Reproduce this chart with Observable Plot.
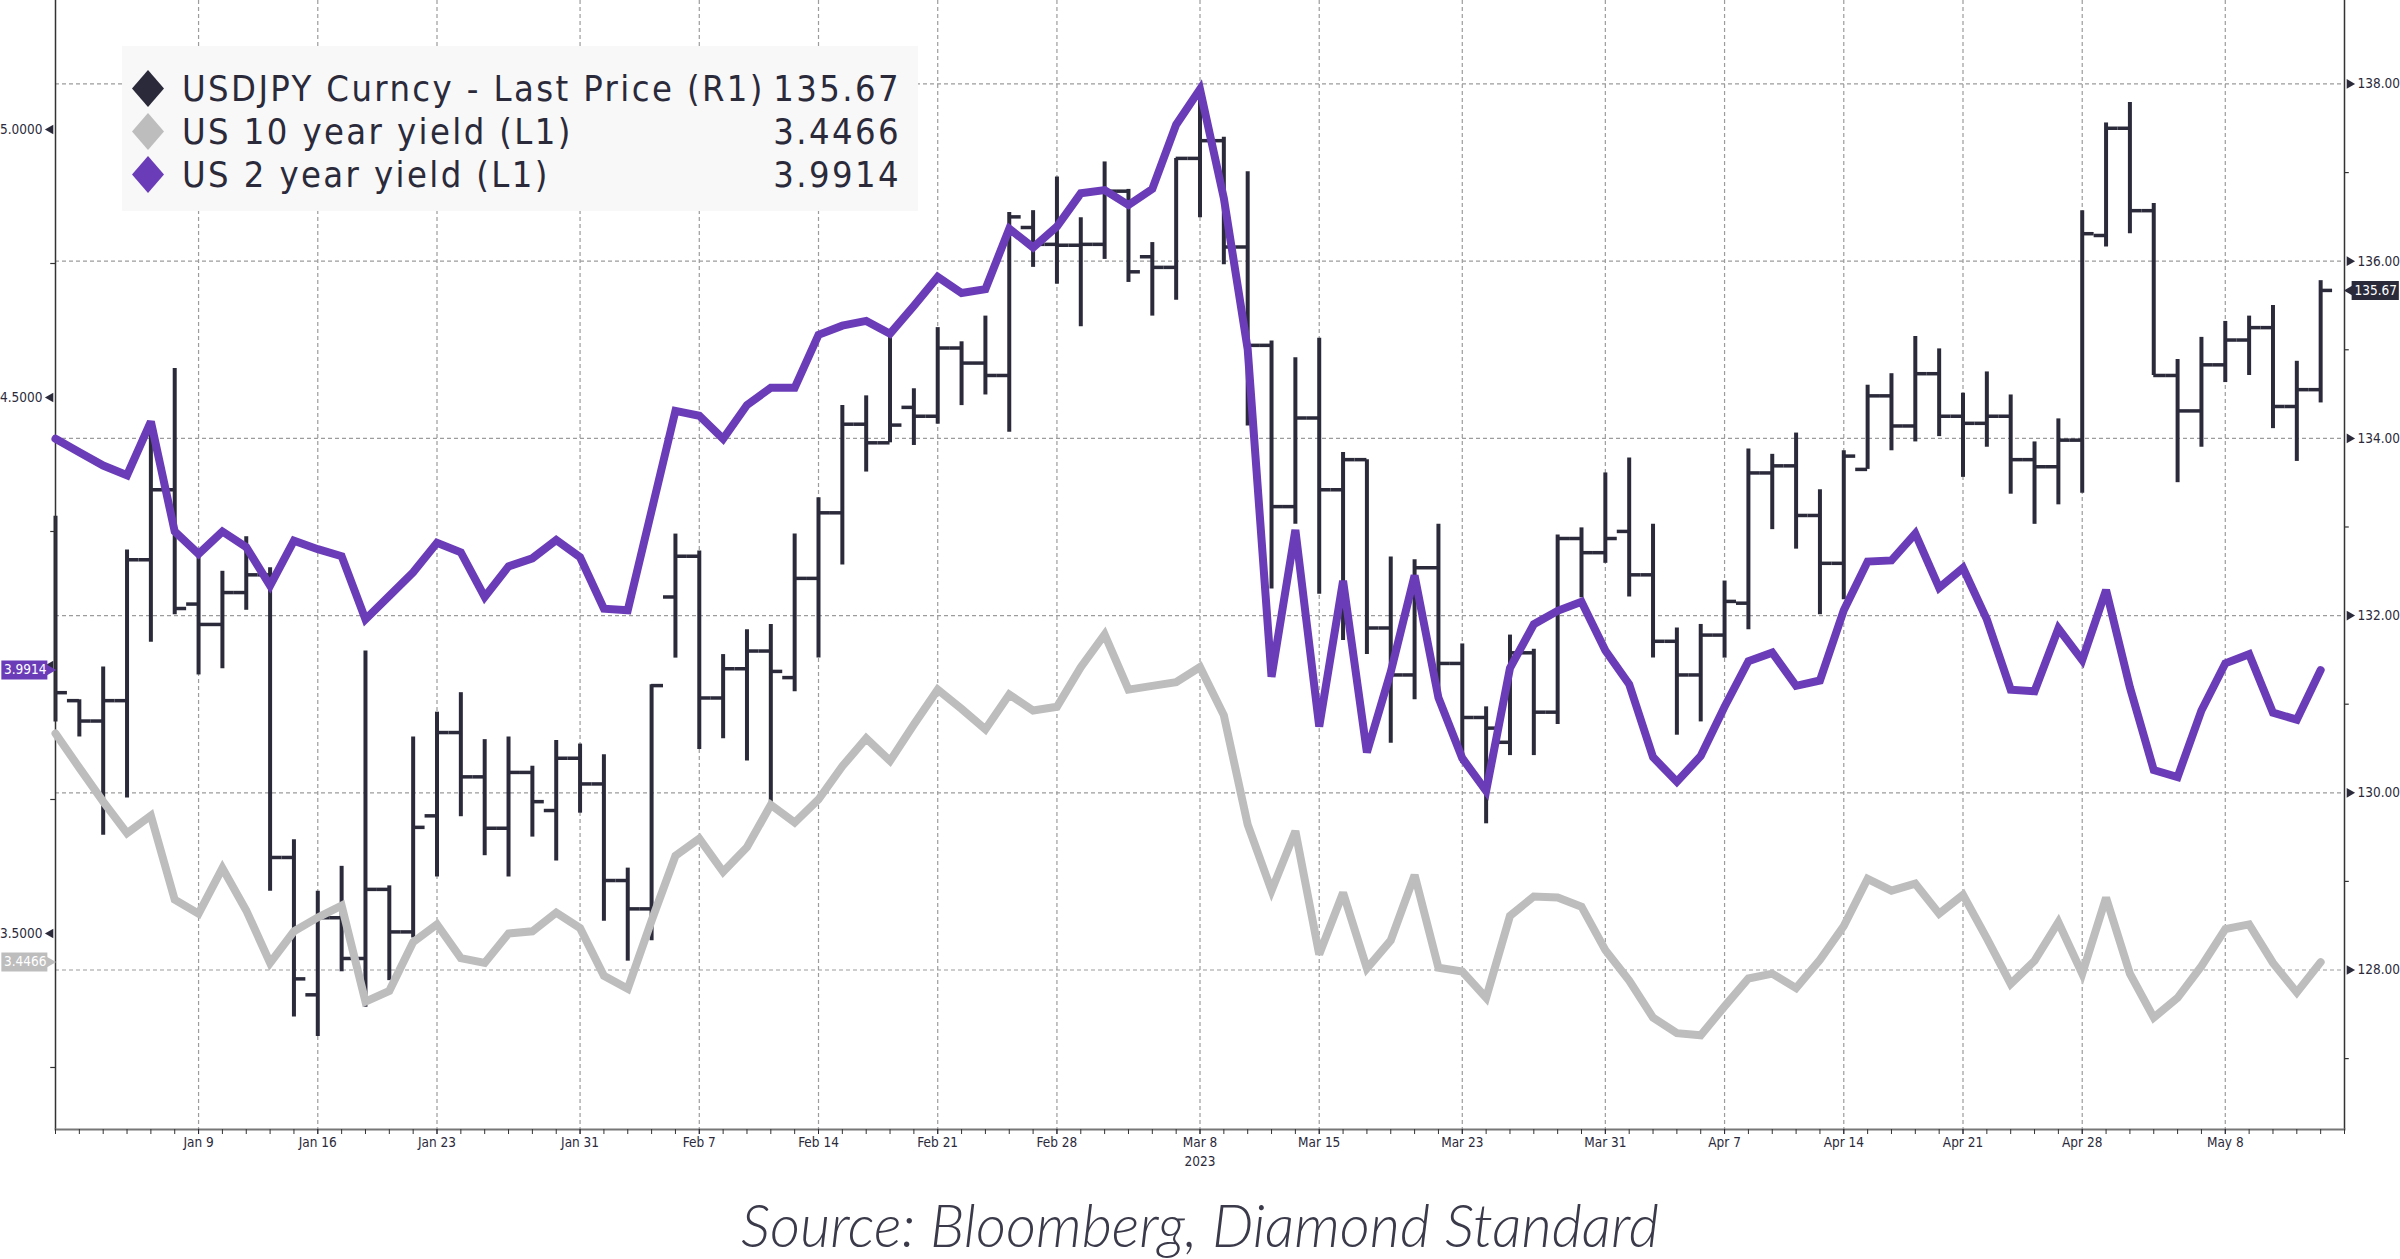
<!DOCTYPE html>
<html>
<head>
<meta charset="utf-8">
<script src="https://cdn.jsdelivr.net/npm/d3@7"></script>
<script src="https://cdn.jsdelivr.net/npm/@observablehq/plot@0.6"></script>
<style>
  html, body { margin: 0; padding: 0; background: #ffffff; }
  #wrap { position: relative; width: 2400px; height: 1259px; overflow: hidden; background: #fff;
          font-family: "DejaVu Sans Condensed", "DejaVu Sans", sans-serif; }
  #wrap > div > svg { position: absolute; left: 0; top: 0; }
  #legend { position: absolute; left: 122px; top: 46px; width: 796px; height: 165px; background: #f8f8f9; }
  .row { position: absolute; left: 0; width: 796px; height: 43px; line-height: 43px; font-size: 36px;
         letter-spacing: 2.4px; color: #2b2a3a; font-family: "DejaVu Sans Condensed", "DejaVu Sans", sans-serif; }
  .row svg { position: absolute; left: 10px; top: 3px; }
  .row .name { position: absolute; left: 60px; }
  .row .val { position: absolute; right: 17px; }
  #caption { position: absolute; left: 0; width: 2400px; top: 1195px; text-align: center;
             font-family: Lato, "Open Sans", sans-serif; font-style: italic; font-weight: 300;
             font-size: 58.5px; line-height: 1; color: #3a3a4a; }
</style>
</head>
<body>
<div id="wrap">
  <div id="chartBottom"></div>
  <div id="chartTop"></div>
  <div id="legend"></div>
  <div id="caption"></div>
</div>
<script>
// ---------------- DATA ----------------
const dates = [
  "2022-12-30",
  "2023-01-02","2023-01-03","2023-01-04","2023-01-05","2023-01-06",
  "2023-01-09","2023-01-10","2023-01-11","2023-01-12","2023-01-13",
  "2023-01-16","2023-01-17","2023-01-18","2023-01-19","2023-01-20",
  "2023-01-23","2023-01-24","2023-01-25","2023-01-26","2023-01-27",
  "2023-01-30","2023-01-31","2023-02-01","2023-02-02","2023-02-03",
  "2023-02-06","2023-02-07","2023-02-08","2023-02-09","2023-02-10",
  "2023-02-13","2023-02-14","2023-02-15","2023-02-16","2023-02-17",
  "2023-02-20","2023-02-21","2023-02-22","2023-02-23","2023-02-24",
  "2023-02-27","2023-02-28","2023-03-01","2023-03-02","2023-03-03",
  "2023-03-06","2023-03-07","2023-03-08","2023-03-09","2023-03-10",
  "2023-03-13","2023-03-14","2023-03-15","2023-03-16","2023-03-17",
  "2023-03-20","2023-03-21","2023-03-22","2023-03-23","2023-03-24",
  "2023-03-27","2023-03-28","2023-03-29","2023-03-30","2023-03-31",
  "2023-04-03","2023-04-04","2023-04-05","2023-04-06","2023-04-07",
  "2023-04-10","2023-04-11","2023-04-12","2023-04-13","2023-04-14",
  "2023-04-17","2023-04-18","2023-04-19","2023-04-20","2023-04-21",
  "2023-04-24","2023-04-25","2023-04-26","2023-04-27","2023-04-28",
  "2023-05-01","2023-05-02","2023-05-03","2023-05-04","2023-05-05",
  "2023-05-08","2023-05-09","2023-05-10","2023-05-11","2023-05-12"
];

const usdjpyOpen = [
  132.90,
  131.04,130.81,131.04,132.63,133.42,
  132.13,131.90,132.26,132.46,129.27,
  127.72,128.59,128.13,128.91,128.43,
  129.74,130.68,130.18,129.60,130.23,
  129.80,130.39,130.10,129.01,128.69,
  132.21,132.67,131.07,131.40,131.60,
  131.30,132.42,133.16,134.16,133.95,
  134.35,134.25,135.02,134.85,134.71,
  136.38,136.19,136.18,136.19,136.79,
  136.05,135.93,137.16,137.36,136.16,
  135.05,133.23,134.23,133.42,133.76,
  131.86,131.33,132.54,131.46,130.85,
  130.57,131.58,130.91,132.87,132.71,
  132.95,132.46,131.71,131.33,131.78,
  132.14,133.61,133.69,133.13,132.59,
  133.65,134.48,134.14,134.73,134.25,
  134.17,134.25,133.76,133.68,133.98,
  136.29,137.50,136.57,134.71,134.31,
  134.83,135.11,135.25,134.36,134.55
];
const usdjpyHigh = [
  133.12,
  131.05,131.42,132.74,134.06,134.79,
  132.67,132.50,132.89,132.54,129.47,
  128.89,129.17,131.60,128.95,130.63,
  130.91,131.13,130.60,130.63,130.30,
  130.59,130.55,130.43,129.15,131.22,
  132.92,132.73,131.56,131.84,131.90,
  132.92,133.33,134.37,134.48,135.14,
  134.56,135.25,135.09,135.38,136.55,
  136.57,136.95,136.49,137.12,136.81,
  136.21,137.16,137.91,137.40,137.01,
  135.10,134.91,135.13,133.84,133.76,
  132.66,132.63,133.03,131.68,130.97,
  131.78,131.62,132.91,132.99,133.61,
  133.78,133.03,131.86,131.90,132.39,
  133.88,133.82,134.06,133.42,133.86,
  134.60,134.73,135.15,135.01,134.51,
  134.75,134.49,133.96,134.22,136.57,
  137.56,137.79,136.65,134.89,135.14,
  135.32,135.38,135.50,134.87,135.78
];
const usdjpyLow = [
  130.80,
  130.63,129.52,129.94,131.70,132.01,
  131.33,131.40,132.06,128.89,127.47,
  127.25,127.98,127.58,127.88,128.36,
  129.05,129.73,129.29,129.05,129.50,
  129.23,129.77,128.55,128.10,128.33,
  131.52,130.49,130.61,130.36,129.88,
  131.14,131.52,132.57,133.62,133.95,
  133.92,134.16,134.37,134.49,134.07,
  135.93,135.74,135.26,136.02,135.76,
  135.38,135.56,136.49,135.96,134.14,
  132.30,133.03,132.24,131.72,131.56,
  130.56,131.05,131.13,130.33,129.65,
  130.42,130.42,130.77,132.20,132.59,
  132.21,131.52,130.65,130.80,131.52,
  131.84,132.97,132.75,132.01,132.18,
  133.65,133.86,133.96,134.02,133.56,
  133.90,133.37,133.03,133.25,133.38,
  136.16,136.31,134.71,133.50,133.90,
  134.63,134.71,134.11,133.74,134.40
];
const usdjpyClose = [
  131.13,
  130.81,131.04,132.63,133.42,132.08,
  131.90,132.26,132.46,129.27,127.90,
  128.59,128.13,128.91,128.43,129.61,
  130.68,130.18,129.60,130.23,129.90,
  130.39,130.10,129.01,128.69,131.21,
  132.67,131.07,131.40,131.60,131.37,
  132.42,133.16,134.16,133.95,134.15,
  134.25,135.02,134.85,134.71,136.50,
  136.19,136.18,136.19,136.79,135.88,
  135.93,137.16,137.36,136.16,135.05,
  133.23,134.23,133.42,133.76,131.86,
  131.33,132.54,131.46,130.85,130.73,
  131.58,130.91,132.87,132.71,132.87,
  132.46,131.71,131.33,131.78,132.16,
  133.61,133.69,133.13,132.59,133.80,
  134.48,134.14,134.73,134.25,134.17,
  134.25,133.76,133.68,133.98,136.31,
  137.50,136.57,134.71,134.31,134.83,
  135.11,135.25,134.36,134.55,135.67
];
const us10y = [
  3.873,
  3.809,3.746,3.687,3.720,3.563,
  3.537,3.622,3.543,3.445,3.504,
  3.530,3.552,3.373,3.393,3.484,
  3.517,3.454,3.445,3.500,3.504,
  3.539,3.510,3.421,3.397,3.524,
  3.645,3.677,3.615,3.661,3.740,
  3.707,3.750,3.812,3.864,3.822,
  3.890,3.955,3.919,3.881,3.946,
  3.916,3.923,3.997,4.058,3.955,
  3.962,3.969,3.997,3.907,3.703,
  3.580,3.691,3.461,3.576,3.435,
  3.487,3.609,3.436,3.429,3.380,
  3.533,3.569,3.567,3.550,3.469,
  3.412,3.343,3.314,3.310,3.364,
  3.416,3.425,3.398,3.451,3.514,
  3.602,3.580,3.593,3.537,3.572,
  3.491,3.406,3.449,3.521,3.425,
  3.567,3.425,3.343,3.380,3.439,
  3.508,3.517,3.445,3.390,3.4466
];
const us2y = [
  4.423,
  4.398,4.373,4.355,4.455,4.250,
  4.208,4.250,4.221,4.149,4.233,
  4.217,4.204,4.086,4.130,4.174,
  4.229,4.211,4.128,4.185,4.200,
  4.234,4.202,4.106,4.103,4.289,
  4.475,4.466,4.423,4.486,4.518,
  4.518,4.617,4.634,4.643,4.619,
  4.671,4.725,4.695,4.702,4.815,
  4.780,4.819,4.881,4.887,4.859,
  4.889,5.009,5.075,4.872,4.590,
  3.979,4.253,3.886,4.158,3.838,
  3.988,4.168,3.940,3.827,3.766,
  3.995,4.077,4.102,4.119,4.028,
  3.965,3.829,3.783,3.831,3.923,
  4.008,4.024,3.962,3.972,4.103,
  4.194,4.196,4.246,4.145,4.182,
  4.086,3.955,3.952,4.069,4.010,
  4.141,3.959,3.805,3.792,3.916,
  4.004,4.021,3.912,3.899,3.9914
];

const labelDates = ["2023-01-09","2023-01-16","2023-01-23","2023-01-31","2023-02-07","2023-02-14",
  "2023-02-21","2023-02-28","2023-03-08","2023-03-15","2023-03-23","2023-03-31","2023-04-07",
  "2023-04-14","2023-04-21","2023-04-28","2023-05-08"];
const yearLabelDate = "2023-03-08";
const yearLabel = "2023";

const rightTicks = [128, 130, 132, 134, 136, 138];
const rightMinor = [127, 129, 131, 133, 135, 137];
const leftTicks = [3.5, 4.0, 4.5, 5.0];
const leftLabeled = [3.5, 4.5, 5.0];
const leftMinor = [3.25, 3.75, 4.25, 4.75];

const seriesNames = ["USDJPY Curncy - Last Price (R1)", "US 10 year yield (L1)", "US 2 year yield (L1)"];
const captionText = "Source: Bloomberg, Diamond Standard";

// ---------------- STYLE ----------------
const C_DARK = "#2b2a3b";
const C_GRAY = "#bdbdbd";
const C_PURPLE = "#6b3cb8";
const C_GRID = "#9c9c9c";
const W = 2400, H = 1175;
const M = {top: 0, right: 56, bottom: 46, left: 55};
const fontFam = "'DejaVu Sans Condensed', 'DejaVu Sans', sans-serif";
const AX_FS = 13.5;

// ---------------- BUILD ----------------
const rows = dates.map((d, i) => ({
  i, date: d,
  open: usdjpyOpen[i], high: usdjpyHigh[i], low: usdjpyLow[i], close: usdjpyClose[i],
  us10: us10y[i], us2: us2y[i]
}));
const n = dates.length;
const xDomain = [0, n];             // one empty slot to the right of the last bar
const allIdx = d3.range(0, n + 1);
const labelIdx = labelDates.map(d => dates.indexOf(d));
const fmtDate = d3.utcFormat("%b %-d");
const parse = d3.utcParse("%Y-%m-%d");

const lastRow = rows[n - 1];

const common = {
  width: W, height: H,
  marginTop: M.top, marginRight: M.right, marginBottom: M.bottom, marginLeft: M.left,
  x: {domain: xDomain, axis: null},
};
const plotStyle = {background: "transparent", fontFamily: fontFam, fontSize: AX_FS + "px", color: "#2b2a3b", overflow: "visible"};

// Bottom layer: grid, USDJPY bars, right axis, x axis
const bottomPlot = Plot.plot({
  ...common,
  style: plotStyle,
  y: {domain: [126.20, 138.942], label: null, axis: null},
  marks: [
    Plot.ruleY(rightTicks, {y: d => d, stroke: C_GRID, strokeWidth: 1.2, strokeDasharray: "4,3"}),
    Plot.ruleX(labelIdx, {x: d => d, stroke: C_GRID, strokeWidth: 1.2, strokeDasharray: "4,3"}),
    // OHLC bars
    Plot.ruleX(rows, {x: "i", y1: "low", y2: "high", stroke: C_DARK, strokeWidth: 4}),
    Plot.ruleY(rows, {y: "open", x1: d => d.i - 0.5, x2: "i", stroke: C_DARK, strokeWidth: 3.5, clip: true}),
    Plot.ruleY(rows, {y: "close", x1: "i", x2: d => d.i + 0.5, stroke: C_DARK, strokeWidth: 3.5}),
    // frame lines
    Plot.ruleX([xDomain[0], xDomain[1]], {x: d => d, stroke: "#333", strokeWidth: 1.5}),
    Plot.frame({anchor: "bottom", stroke: "#777", strokeWidth: 2}),
    // right axis
    Plot.axisY(rightTicks, {anchor: "right", tickSize: 0, tickPadding: 13, label: null,
      tickFormat: d => d.toFixed(2), fontSize: AX_FS, fill: "#2b2a3b"}),
    Plot.dot(rightTicks, {x: xDomain[1], y: d => d, symbol: "triangle", r: 3.6, rotate: 90, dx: 5, fill: C_DARK, stroke: null}),
    Plot.ruleY(rightMinor, {y: d => d, x1: xDomain[1], x2: xDomain[1] + 0.2, stroke: "#333", strokeWidth: 1.2}),
    // last price tag
    Plot.ruleY([lastRow.close], {y: d => d, x1: xDomain[1] + 0.32, x2: xDomain[1] + 2.3, stroke: C_DARK, strokeWidth: 19}),
    Plot.dot([lastRow.close], {x: xDomain[1] + 0.3, y: d => d, symbol: "triangle", r: 5, rotate: -90, fill: C_DARK, stroke: null}),
    Plot.text([lastRow.close], {x: xDomain[1] + 1.31, y: d => d, text: d => d.toFixed(2), fill: "white", fontSize: AX_FS}),
    // x axis
    Plot.axisX(allIdx, {tickSize: 5, tickFormat: () => "", stroke: "#333", label: null}),
    Plot.axisX(labelIdx, {tickSize: 5, tickPadding: 3, label: null,
      tickFormat: i => fmtDate(parse(dates[i])), fontSize: AX_FS, fill: "#2b2a3b"}),
    Plot.text([dates.indexOf(yearLabelDate)], {x: d => d, frameAnchor: "bottom", dy: 27, lineAnchor: "top",
      text: () => yearLabel, fontSize: AX_FS, fill: "#2b2a3b"})
  ]
});

// Top layer: yields on the left scale
const topPlot = Plot.plot({
  ...common,
  style: plotStyle,
  y: {domain: [3.1343, 5.2407], label: null, axis: null},
  marks: [
    Plot.line(rows, {x: "i", y: "us10", stroke: C_GRAY, strokeWidth: 8, strokeLinejoin: "miter", strokeMiterlimit: 3}),
    Plot.line(rows, {x: "i", y: "us2", stroke: C_PURPLE, strokeWidth: 8, strokeLinejoin: "miter", strokeMiterlimit: 3}),
    Plot.axisY(leftLabeled, {anchor: "left", tickSize: 0, tickPadding: 13, label: null,
      tickFormat: d => d.toFixed(4), fontSize: AX_FS, fill: "#2b2a3b"}),
    Plot.dot(leftTicks, {x: xDomain[0], y: d => d, symbol: "triangle", r: 3.6, rotate: -90, dx: -5, fill: C_DARK, stroke: null}),
    Plot.ruleY(leftMinor, {y: d => d, x1: xDomain[0] - 0.2, x2: xDomain[0], stroke: "#333", strokeWidth: 1.2}),
    // last value tags
    Plot.ruleY([lastRow.us2], {y: d => d, x1: -2.25, x2: -0.32, stroke: C_PURPLE, strokeWidth: 19}),
    Plot.dot([lastRow.us2], {x: -0.3, y: d => d, symbol: "triangle", r: 5, rotate: 90, fill: C_PURPLE, stroke: null}),
    Plot.text([lastRow.us2], {x: -1.27, y: d => d, text: d => d.toFixed(4), fill: "white", fontSize: AX_FS}),
    Plot.ruleY([lastRow.us10], {y: d => d, x1: -2.25, x2: -0.32, stroke: C_GRAY, strokeWidth: 19}),
    Plot.dot([lastRow.us10], {x: -0.3, y: d => d, symbol: "triangle", r: 5, rotate: 90, fill: C_GRAY, stroke: null}),
    Plot.text([lastRow.us10], {x: -1.27, y: d => d, text: d => d.toFixed(4), fill: "white", fontSize: AX_FS})
  ]
});

document.getElementById("chartBottom").appendChild(bottomPlot);
document.getElementById("chartTop").appendChild(topPlot);

// Legend
const legendVals = [lastRow.close.toFixed(2), lastRow.us10.toFixed(4), lastRow.us2.toFixed(4)];
const legendCols = [C_DARK, C_GRAY, C_PURPLE];
const leg = d3.select("#legend");
seriesNames.forEach((name, k) => {
  const r = leg.append("div").attr("class", "row").style("top", (21 + k * 43) + "px");
  const s = r.append("svg").attr("width", 32).attr("height", 37);
  s.append("polygon").attr("points", "16,0 32,18.5 16,37 0,18.5").attr("fill", legendCols[k]);
  r.append("span").attr("class", "name").text(name);
  r.append("span").attr("class", "val").text(legendVals[k]);
});
document.getElementById("caption").textContent = captionText;
</script>
</body>
</html>
